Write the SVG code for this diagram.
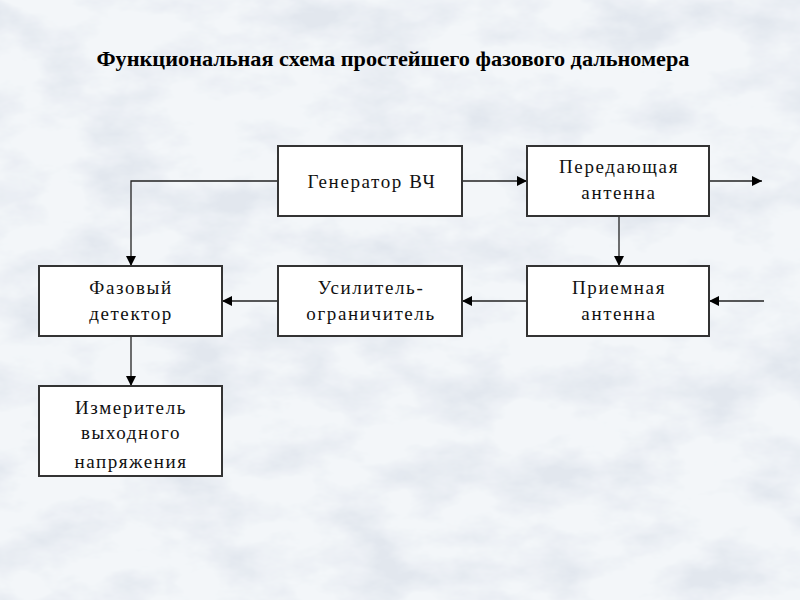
<svg xmlns="http://www.w3.org/2000/svg" width="800" height="600" viewBox="0 0 800 600">
<defs>
<filter id="clouds" x="0" y="0" width="100%" height="100%">
<feTurbulence type="fractalNoise" baseFrequency="0.012 0.022" numOctaves="5" seed="7" result="n"/>
<feColorMatrix in="n" type="matrix" values="0 0 0 0 0.76  0 0 0 0 0.80  0 0 0 0 0.86  0 0 0 -2.6 1.55" result="c"/>
<feComposite in="c" in2="SourceGraphic" operator="over"/>
</filter>
<marker id="arr" viewBox="0 0 10 10" refX="10" refY="5" markerWidth="10" markerHeight="10" markerUnits="userSpaceOnUse" orient="auto">
<path d="M0,0 L10,5 L0,10 z" fill="#000"/>
</marker>
<style>
.box{fill:#fff;stroke:#333;stroke-width:2}
.t{font-family:"Liberation Serif","Times New Roman",serif;font-size:19px;fill:#111;text-anchor:middle;letter-spacing:1.6px}
.title{font-family:"Liberation Serif","Times New Roman",serif;font-size:21px;font-weight:bold;fill:#000;text-anchor:middle}
.c{fill:none;stroke:#222;stroke-width:1.3}
</style>
</defs>
<rect width="800" height="600" fill="#f3f6f9" filter="url(#clouds)"/>
<text class="title" x="393" y="66" textLength="593" lengthAdjust="spacingAndGlyphs">Функциональная схема простейшего фазового дальномера</text>
<g id="connectors">
<path class="c" d="M462,181 H527" marker-end="url(#arr)"/>
<path class="c" d="M709,181 H762" marker-end="url(#arr)"/>
<path class="c" d="M619,216 V266" marker-end="url(#arr)"/>
<path class="c" d="M764,301 H709" marker-end="url(#arr)"/>
<path class="c" d="M527,301 H462" marker-end="url(#arr)"/>
<path class="c" d="M278,301 H222" marker-end="url(#arr)"/>
<path class="c" d="M278,181 H131 V266" marker-end="url(#arr)"/>
<path class="c" d="M131,336 V386" marker-end="url(#arr)"/>
</g>
<g id="gen">
<rect class="box" x="278" y="146" width="184" height="70"/>
<text class="t" x="372" y="188">Генератор ВЧ</text>
</g>
<g id="tx">
<rect class="box" x="527" y="146" width="182" height="70"/>
<text class="t" x="619" y="173">Передающая</text>
<text class="t" x="619" y="199">антенна</text>
</g>
<g id="rx">
<rect class="box" x="527" y="266" width="182" height="70"/>
<text class="t" x="619" y="294">Приемная</text>
<text class="t" x="619" y="320">антенна</text>
</g>
<g id="amp">
<rect class="box" x="278" y="266" width="184" height="70"/>
<text class="t" x="371" y="294">Усилитель-</text>
<text class="t" x="371" y="320">ограничитель</text>
</g>
<g id="pd">
<rect class="box" x="39" y="266" width="183" height="70"/>
<text class="t" x="131" y="294">Фазовый</text>
<text class="t" x="131" y="320">детектор</text>
</g>
<g id="meter">
<rect class="box" x="39" y="386" width="183" height="90"/>
<text class="t" x="131" y="414">Измеритель</text>
<text class="t" x="131" y="439">выходного</text>
<text class="t" x="131" y="468">напряжения</text>
</g>
</svg>
